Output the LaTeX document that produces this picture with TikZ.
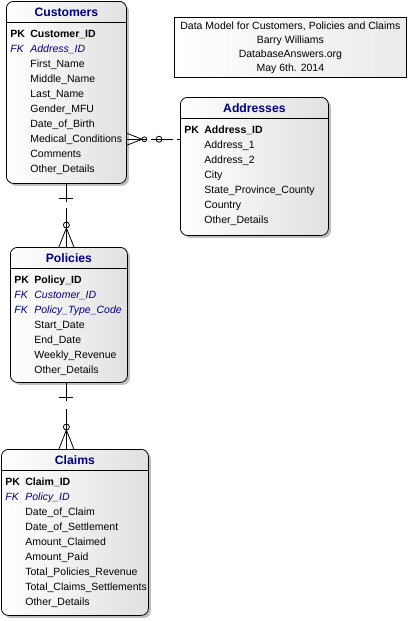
\documentclass[tikz,border=0pt]{standalone}
\usepackage{fontspec}
\setmainfont{Liberation Sans}
\usetikzlibrary{calc,shadows}
\definecolor{navy}{RGB}{0,0,128}

\newcommand\pk[1]{\llap{\makebox[20pt][l]{\bfseries PK}}\textbf{#1}}
\newcommand\fk[1]{\textcolor{navy}{\itshape\llap{\makebox[20pt][l]{FK}}#1}}
\newcommand\entity[7]{%
  \node[entity, minimum width=#4pt, minimum height=#5pt] (#1) at (#2,#3) {};
  \node[ttl] (#1-t) at ($(#1.north)+(0,11)$) {#6};
  \draw ([yshift=-21pt]#1.north west) -- ([yshift=-21pt]#1.north east);
  \foreach \r [count=\i from 0] in {#7}
    \node[attr] (#1-\i) at ($(#1.north west)+(24,36+15*\i)$) {\r};
}

\tikzset{
  entity/.style={draw, anchor=north west, inner sep=0pt, rounded corners=7pt,
    left color=white, right color=black!12,
    drop shadow={shadow xshift=2.5pt, shadow yshift=-2.5pt, fill=black!25, opacity=1}},
  ttl/.style={text=navy, font=\bfseries\fontsize{12.2}{14}\selectfont},
  attr/.style={anchor=base west, inner sep=0pt},
  note/.style={draw, anchor=north west, align=center, left color=white, right color=black!8,
    minimum width=232pt, minimum height=60pt, font=\fontsize{10.5}{14}\selectfont},
  rel/.style={draw},
  one/.pic={\draw (-7,15) -- (7,15);},
  many/.pic={\draw (-7.5,0) -- (0,-19) -- (7.5,0); \draw (0,-22) circle (3);}
}

\begin{document}
\begin{tikzpicture}[x=1pt, y=-1pt, line width=0.8pt, font=\fontsize{10.5}{12}\selectfont]
\useasboundingbox (0,0) rectangle (417,621);

\entity{cust}{6}{1}{120}{182}{Customers}{\pk{Customer\_ID}, \fk{Address\_ID}, First\_Name, Middle\_Name, Last\_Name, Gender\_MFU, Date\_of\_Birth, Medical\_Conditions, Comments, Other\_Details}
\entity{addr}{180}{97}{148}{138}{Addresses}{\pk{Address\_ID}, Address\_1, Address\_2, City, State\_Province\_County, Country, Other\_Details}
\entity{pol}{10}{247}{117}{135}{Policies}{\pk{Policy\_ID}, \fk{Customer\_ID}, \fk{Policy\_Type\_Code}, Start\_Date, End\_Date, Weekly\_Revenue, Other\_Details}
\entity{clm}{1}{449}{147}{166}{Claims}{\pk{Claim\_ID}, \fk{Policy\_ID}, Date\_of\_Claim, Date\_of\_Settlement, Amount\_Claimed, Amount\_Paid, Total\_Policies\_Revenue, Total\_Claims\_Settlements, Other\_Details}

\node[note] (info) at (174,17) {Data Model for Customers, Policies and Claims\\Barry Williams\\DatabaseAnswers.org\\May 6th. 2014};

\draw[rel, dash pattern=on 20pt off 4pt on 22pt off 4pt on 10pt] (cust.east |- cust-7) -- (addr.west |- cust-7);
\pic[rotate=-90, scale=0.8] at (cust.east |- cust-7) {many};
\draw ($(addr.west |- cust-7)+(-21,0)$) circle (3);

\draw[rel, dash pattern=on 18pt off 6pt on 100pt] (cust.south) -- (cust.south |- pol.north);
\pic at (cust.south) {one};
\pic at (cust.south |- pol.north) {many};

\draw[rel, dash pattern=on 18pt off 8pt on 100pt] (pol.south -| cust.south) -- (clm.north -| cust.south);
\pic at (pol.south -| cust.south) {one};
\pic at (clm.north -| cust.south) {many};
\end{tikzpicture}
\end{document}
